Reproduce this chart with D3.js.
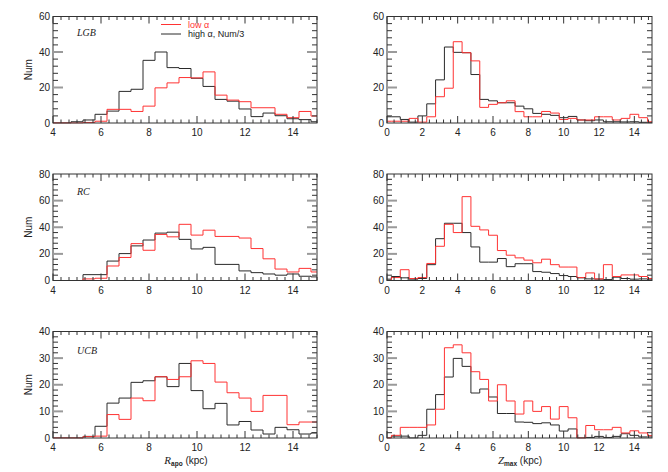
<!DOCTYPE html>
<html><head><meta charset="utf-8">
<script src="https://cdn.jsdelivr.net/npm/d3@7"></script>
<style>body{margin:0;background:#fff}svg{display:block}</style>
</head><body>
<svg id="c" width="668" height="472"></svg>
<script>
// ---- data ----
const rapoBins = [4,4.5,5,5.5,6,6.5,7,7.5,8,8.5,9,9.5,10,10.5,11,11.5,12,12.5,13,13.5,14,14.5,15];
const zmaxBins = [0,0.5,1,1.5,2,2.5,3,3.5,4,4.5,5,5.5,6,6.5,7,7.5,8,8.5,9,9.5,10,10.5,11,11.5,12,12.5,13,13.5,14,14.5,15];

const lgbRapoLow  = [0,0,0,0.3,1,7.7,7.7,6.5,9.5,19.8,22.6,25.6,25.4,28.8,15.7,12.9,12,8.6,8.6,4.9,3,6.5,3.9];
const lgbRapoHigh = [0,0,0.7,1.7,4.9,6.7,17.8,19,35.3,40,31.2,30.7,25.2,20.6,13.3,12.3,7.9,3.6,5.6,4.1,2.4,1.9,0.7];
const lgbZmaxLow  = [1,1,1,2.6,0.5,3.5,14.8,19.6,45.8,39.6,35,8.8,10.5,11.4,12.5,6.4,3.5,3.5,6.5,5.6,2,2.6,1.7,1.7,3.5,3.5,1.7,2.6,4.9,3,0.7];
const lgbZmaxHigh = [3.5,3.5,2,0.5,4,10.8,24.3,42.8,39.8,39.6,27.3,13.3,12.5,11.4,11.4,9.5,8,5.4,4.9,4.3,3,3.7,1.7,1.3,1.7,0.7,0.7,0.6,0.7,0.4,0.2];

const rcRapoLow  = [0,0,0,1.2,1.7,10.9,17.3,27.7,22.7,34.6,32.8,42.2,34.1,37.8,33.1,33.1,31.9,24,16.3,8.6,6.4,9.1,6.4];
const rcRapoHigh = [0,0,0,4.4,4.4,14.6,20.2,26,30.4,35.6,36.3,30.9,23.7,24.9,12.1,12.1,7.2,5.9,4.9,4,4.9,3.2,2.7];
const rcZmaxLow  = [0,2.2,8.1,1.5,2.2,12.8,25.7,42.2,36,63,40.7,38,34,22.5,19,17,15.3,13.3,16,11.9,10.1,10.1,2.2,5.7,1.2,11.9,3,4.2,4.2,3,1.5];
const rcZmaxHigh = [1,3,2,1,1.5,11.9,31.4,43,43,36,25.2,13.8,13.8,16.5,10.4,12.6,12.6,6.7,6.2,5.2,3.7,3,2,1.2,1,0.7,2.5,1.5,1,1.2,0.5];

const ucbRapoLow  = [0,0,0,0.5,0.7,8.8,7,15,14,23,22,23,29,28,21,17,15,10,16,16,5,6,6];
const ucbRapoHigh = [0,0,0,0.6,4.4,13.1,15,20.9,21.5,23,19.3,28,17.8,11,13,4.9,6.2,3,1.5,4,3.1,1.5,1.9];
const ucbZmaxLow  = [0,1,4,4,4,4.9,10.8,33.9,35,32,24.9,22,13.9,20,13.9,9,13.9,10,11.8,7.1,11.8,7.6,0,4.7,3.1,3.1,4,1.9,2.7,1.9,0.9];
const ucbZmaxHigh = [0,0.7,0.7,0,1,10.8,16.3,22.9,29.9,26.9,16.9,18.4,15.4,9.2,9.2,6,5.9,5.4,5.7,4.9,2.6,3.4,0,0.2,0.6,0.2,0.6,1.6,1,0.4,0.4];

const rapoTicks = [4,6,8,10,12,14];
const zmaxTicks = [0,2,4,6,8,10,12,14];
const rowNames = ["LGB","RC","UCB"];
const rowYMax = [60,80,40];
const rowYTicks = [[0,20,40,60],[0,20,40,60,80],[0,10,20,30,40]];
const legendLabels = ["low \u03b1","high \u03b1, Num/3"];
const binWidth = 0.5;

// ---- layout ----
const svg = d3.select("#c");
svg.append("rect").attr("width",668).attr("height",472).attr("fill","#fff");
const RED = "#ff3333", BLK = "#2a2a2a", AX = "#333";
const FONT = "'Liberation Sans', Arial, sans-serif";
const cols = [{x0:53,x1:317,dom:[4,15],bins:rapoBins,ticks:rapoTicks,minor:1/3},
              {x0:387,x1:652,dom:[0,15],bins:zmaxBins,ticks:zmaxTicks,minor:0.4}];
const rowTop = [16.5,174,331.5], rowH = 106.5;
const series = [
  [[lgbRapoLow,lgbRapoHigh],[lgbZmaxLow,lgbZmaxHigh]],
  [[rcRapoLow,rcRapoHigh],[rcZmaxLow,rcZmaxHigh]],
  [[ucbRapoLow,ucbRapoHigh],[ucbZmaxLow,ucbZmaxHigh]]
];
const labelOffset = [19, 21, 22];

let clipId = 0;
rowTop.forEach((top, r) => {
  cols.forEach((col, ci) => {
    const x = d3.scaleLinear().domain(col.dom).range([col.x0, col.x1]);
    const y = d3.scaleLinear().domain([0,rowYMax[r]]).range([top+rowH, top]);
    const g = svg.append("g");
    const id = "clip"+(clipId++);
    svg.append("clipPath").attr("id",id).append("rect")
      .attr("x",col.x0).attr("y",top).attr("width",col.x1-col.x0).attr("height",rowH+0.5);

    // histograms
    const [low, high] = series[r][ci];
    const mk = vals => {
      const pts = col.bins.map((c,i)=>[c-binWidth/2, vals[i]]);
      pts.push([col.bins[col.bins.length-1]+binWidth/2, vals[vals.length-1]]);
      return d3.line().x(d=>x(d[0])).y(d=>y(d[1])).curve(d3.curveStepAfter)(pts);
    };
    g.append("path").attr("d",mk(high)).attr("fill","none").attr("stroke",BLK)
      .attr("stroke-width",1).attr("clip-path",`url(#${id})`);
    g.append("path").attr("d",mk(low)).attr("fill","none").attr("stroke",RED)
      .attr("stroke-width",1).attr("clip-path",`url(#${id})`);

    // frame
    g.append("rect").attr("x",col.x0).attr("y",top).attr("width",col.x1-col.x0).attr("height",rowH)
      .attr("fill","none").attr("stroke",AX).attr("stroke-width",1);

    // x ticks (inside, top & bottom)
    const xmin = d3.range(col.dom[0], col.dom[1]+1e-6, col.minor);
    xmin.forEach(v=>{
      const isMaj = col.ticks.some(t=>Math.abs(t-v)<1e-6);
      const len = isMaj?7:3.5;
      const px = x(v);
      g.append("line").attr("x1",px).attr("x2",px).attr("y1",top+rowH).attr("y2",top+rowH-len).attr("stroke",AX);
      g.append("line").attr("x1",px).attr("x2",px).attr("y1",top).attr("y2",top+len).attr("stroke",AX);
    });
    col.ticks.forEach(t=>{
      g.append("text").attr("x",x(t)).attr("y",top+rowH+13).attr("text-anchor","middle")
        .attr("font-family",FONT).attr("font-size",10).attr("fill","#222").text(t);
    });
    // y ticks
    const yt = rowYTicks[r];
    const ystep = (yt[1]-yt[0])/5;
    d3.range(0, rowYMax[r]+1e-6, ystep).forEach(v=>{
      const isMaj = yt.some(t=>Math.abs(t-v)<1e-6);
      const py = y(v);
      if (isMaj && v>0 && v<rowYMax[r]) {
        g.append("line").attr("x1",col.x0).attr("x2",col.x0+10).attr("y1",py).attr("y2",py).attr("stroke","#9a9a9a").attr("stroke-width",2);
        g.append("line").attr("x1",col.x1).attr("x2",col.x1-10).attr("y1",py).attr("y2",py).attr("stroke","#9a9a9a").attr("stroke-width",2);
      } else if (!isMaj) {
        g.append("line").attr("x1",col.x0).attr("x2",col.x0+5).attr("y1",py).attr("y2",py).attr("stroke",AX);
        g.append("line").attr("x1",col.x1).attr("x2",col.x1-5).attr("y1",py).attr("y2",py).attr("stroke",AX);
      }
    });
    yt.forEach(t=>{
      g.append("text").attr("x",col.x0-3).attr("y",y(t)).attr("dy","0.35em").attr("text-anchor","end")
        .attr("font-family",FONT).attr("font-size",10).attr("fill","#222").text(t);
    });

    if (ci===0) {
      g.append("text").attr("transform",`translate(32,${top+rowH/2}) rotate(-90)`)
        .attr("text-anchor","middle").attr("font-family",FONT).attr("font-size",10).attr("fill","#222").text("Num");
      g.append("text").attr("x",77).attr("y",top+labelOffset[r]).attr("font-family","'Liberation Serif', serif")
        .attr("font-style","italic").attr("font-size",10).attr("fill","#222").text(rowNames[r]);
    }
  });
});

// legend
const lg = svg.append("g");
[[RED,24.5],[BLK,34]].forEach((d,i)=>{
  lg.append("line").attr("x1",161).attr("x2",181).attr("y1",d[1]).attr("y2",d[1]).attr("stroke",d[0]);
  lg.append("text").attr("x",188).attr("y",d[1]+3).attr("font-family",FONT).attr("font-size",9)
    .attr("fill", i===0?RED:"#222").text(legendLabels[i]);
});

// x-axis titles
function xTitle(cx, main, sub) {
  const t = svg.append("text").attr("x",cx).attr("y",464).attr("text-anchor","middle")
    .attr("font-family",FONT).attr("font-size",10).attr("fill","#222");
  t.append("tspan").attr("font-style","italic").attr("font-family","'Liberation Serif', serif").attr("font-size",11).text(main);
  t.append("tspan").attr("font-size",6.5).attr("font-weight","bold").attr("dy",2).text(sub);
  t.append("tspan").attr("dy",-2).text(" (kpc)");
}
xTitle(186, "R", "apo");
xTitle(520, "Z", "max");
</script>
</body></html>
